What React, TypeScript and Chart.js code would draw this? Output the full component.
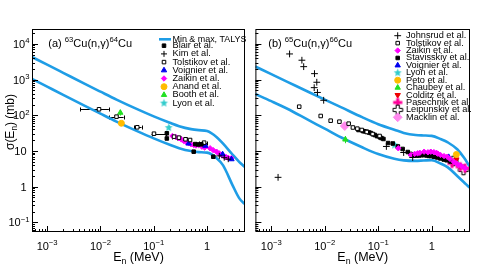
import React, { useEffect, useRef } from 'react';
import { Chart, registerables } from 'chart.js';
import { drawPoint } from 'chart.js/helpers';

Chart.register(...registerables);

const FONT = '"Liberation Sans", Arial, Helvetica, sans-serif';
const TALYS_COLOR = '#1f9de6';

// ---------- TALYS min / max bands ----------
const talysE = [5e-4, 1e-3, 2e-3, 5e-3, 0.01, 0.02, 0.05, 0.1, 0.2, 0.3, 0.5, 0.7, 1, 1.5, 2, 3, 4, 5, 5.5];
const cu63Max = [4405, 2612, 1542, 767, 458, 275, 146, 93, 61.7, 49.5, 41.0, 38.3, 36.1, 24.8, 16.0, 7.98, 4.98, 3.66, 3.21];
const cu63Min = [1074, 632, 372, 186, 111, 66.7, 35.4, 22.5, 14.9, 12.0, 9.94, 9.31, 9.02, 6.41, 3.95, 1.11, 0.48, 0.336, 0.297];
const cu65Max = [2328, 1416, 863, 447, 274, 169, 88.5, 56.3, 39.5, 32.1, 27.9, 27.2, 26.5, 21.3, 17.4, 11.2, 6.53, 3.93, 3.17];
const cu65Min = [395, 248, 152, 73, 42.2, 24.2, 12.7, 8.19, 6.05, 5.46, 5.29, 5.42, 5.56, 4.38, 3.49, 2.0, 1.34, 0.975, 0.857];

// ---------- (a) 63Cu(n,g)64Cu ----------
const blairE = [0.176, 0.176, 0.562, 1.31, 0.6, 0.68, 0.78];
const blairXS = [31.3, 22.4, 9.56, 6.92, 15.6, 15.2, 15.4];
const kimE = [1.7, 2.1, 2.5];
const kimXS = [7.3, 6.5, 5.9];
const tolst63E = [0.0094, 0.02, 0.049, 0.101, 0.24, 0.297, 0.394, 0.48, 0.88];
const tolst63XS = [147, 91.4, 46.1, 30.5, 25.2, 23.6, 21.3, 20.3, 17.1];
const tolst63ELo = [0.0042, 0.0144, 0.043, 0.091, 0.22, 0.275, 0.37, 0.45, 0.7];
const tolst63EHi = [0.0144, 0.0272, 0.059, 0.171, 0.26, 0.32, 0.42, 0.51, 0.99];
const voig63E = [0.45, 0.93, 1.96, 2.87];
const voig63XS = [16.2, 14.0, 8.09, 5.89];
const zaik63E = [0.224, 0.26, 0.297, 0.33, 0.367, 0.41, 0.454, 0.5, 0.562, 0.62, 0.695, 0.8, 0.9, 1.14, 1.3, 1.51, 1.7, 1.87, 2.14, 2.3, 2.48, 2.85];
const zaik63XS = [26.3, 24.5, 22.7, 21.0, 19.1, 17.6, 16.4, 15.5, 14.7, 14.2, 14.7, 13.2, 12.5, 11.9, 10.6, 9.55, 8.5, 7.72, 6.92, 6.7, 6.48, 6.3];
const anandE = [0.0247];
const anandXS = [59.7];
const boothE = [0.0236];
const boothXS = [118];
const boothLo = [98];
const boothHi = [140];
const lyon63E = [0.191];
const lyon63XS = [45];
const lyon63Lo = [39];
const lyon63Hi = [52];

// ---------- (b) 65Cu(n,g)66Cu ----------
const johnsrudE = [0.00134, 0.0022, 0.00374, 0.00404, 0.00643, 0.0071, 0.00635, 0.0073, 0.00955, 0.142, 0.299, 0.441];
const johnsrudXS = [1.83, 5210, 3476, 2296, 1462, 840, 593, 435, 263, 13.4, 9.08, 6.58];
const tolst65E = [0.00333, 0.0084, 0.0129, 0.0188, 0.028, 0.0336, 0.0407, 0.0492, 0.061, 0.0785, 0.106];
const tolst65XS = [174, 95.5, 70.6, 66.2, 58.2, 45.5, 42.2, 38.7, 34.0, 29.9, 26.3];
const zaik65E = [0.237, 0.41, 0.48, 0.546, 0.6, 0.72, 0.85, 0.96, 1.1, 1.24, 1.3, 1.46, 1.7, 1.95, 2.2, 2.58, 2.9, 3.18, 3.6, 4.23];
const zaik65XS = [11.9, 7.73, 8.3, 8.62, 8.9, 9.56, 9.2, 9.56, 9.3, 8.79, 8.4, 7.73, 7.2, 6.92, 6.0, 5.01, 4.5, 4.06, 3.8, 3.27];
const stavE = [0.0428, 0.0514, 0.055, 0.061, 0.067, 0.0721, 0.08, 0.0865, 0.095, 0.107, 0.115, 0.125, 0.153, 0.187, 0.233, 0.286, 0.357, 0.4, 0.472, 0.52, 0.576, 0.65, 0.713, 0.8, 0.88, 0.958, 1.1, 1.27, 1.45, 1.68, 1.9, 2.24];
const stavXS = [38.7, 36.3, 35.5, 34.7, 33.0, 31.9, 29.5, 28.0, 26.0, 24.2, 23.0, 21.7, 16.7, 16.2, 13.4, 11.4, 9.37, 8.3, 7.48, 7.5, 7.48, 7.6, 7.73, 7.5, 7.3, 7.24, 6.9, 6.58, 6.2, 5.78, 5.5, 5.08];
const voig65E = [0.507, 0.958, 2.08];
const voig65XS = [7.48, 8.96, 6.79];
const lyon65E = [0.202];
const lyon65XS = [14.7];
const lyon65Lo = [12.6];
const lyon65Hi = [17];
const petoE = [2.89];
const petoXS = [8.0];
const chaubeyE = [0.0243];
const chaubeyXS = [21];
const chaubeyLo = [16.5];
const chaubeyHi = [26];
const colditzE = [2.89];
const colditzXS = [5.8];
const pasechE = [2.4, 3.42, 4.2];
const pasechXS = [4.5, 3.63, 3.3];
const leipE = [2.54, 3.93];
const leipXS = [5.25, 2.94];
const macklinE = [0.0237];
const macklinXS = [50];
const macklinLo = [43];
const macklinHi = [57];

// ---------- axis ----------
const xTickExps = [-3, -2, -1, 0];
const yTickExps = [-1, 0, 1, 2, 3, 4];

type Seg = { t: string; k?: 'sup' | 'sub' };

function drawRich(ctx: CanvasRenderingContext2D, segs: Seg[], x: number, y: number, size: number, align: string) {
  const small = size * 0.7;
  let w = 0;
  const ws: number[] = [];
  for (const s of segs) {
    ctx.font = `${s.k ? small : size}px ${FONT}`;
    const m = ctx.measureText(s.t).width;
    ws.push(m);
    w += m;
  }
  let cx = align === 'left' ? x : align === 'right' ? x - w : x - w / 2;
  ctx.textAlign = 'left';
  ctx.textBaseline = 'alphabetic';
  segs.forEach((s, i) => {
    ctx.font = `${s.k ? small : size}px ${FONT}`;
    const dy = s.k === 'sup' ? -size * 0.42 : s.k === 'sub' ? size * 0.22 : 0;
    ctx.fillText(s.t, cx, y + dy);
    cx += ws[i];
  });
}

function expLabel(e: number): Seg[] {
  if (e === 0) return [{ t: '1' }];
  if (e === 1) return [{ t: '10' }];
  return [{ t: '10' }, { t: String(e).replace('-', '\u2212'), k: 'sup' }];
}

function makeStar(color: string, r: number) {
  const s = Math.ceil(r * 2 + 2);
  const c = document.createElement('canvas');
  c.width = s; c.height = s;
  const g = c.getContext('2d')!;
  g.fillStyle = color;
  g.beginPath();
  for (let i = 0; i < 10; i++) {
    const rr = i % 2 === 0 ? r : r * 0.45;
    const a = -Math.PI / 2 + (i * Math.PI) / 5;
    const px = s / 2 + rr * Math.cos(a);
    const py = s / 2 + rr * Math.sin(a);
    if (i === 0) g.moveTo(px, py); else g.lineTo(px, py);
  }
  g.closePath();
  g.fill();
  return c;
}

function makeCross(fill: string | null, stroke: string | null, r: number, arm: number) {
  const s = Math.ceil(r * 2 + 2);
  const c = document.createElement('canvas');
  c.width = s; c.height = s;
  const g = c.getContext('2d')!;
  const o = s / 2;
  const a = arm / 2;
  const pts = [
    [o - a, o - r], [o + a, o - r], [o + a, o - a], [o + r, o - a], [o + r, o + a], [o + a, o + a],
    [o + a, o + r], [o - a, o + r], [o - a, o + a], [o - r, o + a], [o - r, o - a], [o - a, o - a],
  ];
  g.beginPath();
  pts.forEach((p, i) => (i === 0 ? g.moveTo(p[0], p[1]) : g.lineTo(p[0], p[1])));
  g.closePath();
  if (fill) { g.fillStyle = fill; g.fill(); }
  if (stroke) { g.strokeStyle = stroke; g.lineWidth = 1; g.stroke(); }
  return c;
}

type Style = { pointStyle: any; radius: number; rotation?: number; bg: string; border: string; bw: number };
type Series = { label: string; x: number[]; y: number[]; st: Style; errX?: number[][]; errY?: number[][]; errColor?: string };

function styles() {
  return {
    blair: { pointStyle: 'rect', radius: 2.5, bg: '#000', border: '#000', bw: 1 },
    kim: { pointStyle: 'cross', radius: 3, bg: '#000', border: '#000', bw: 1 },
    tolst: { pointStyle: 'rect', radius: 2.5, bg: '#fff', border: '#000', bw: 1 },
    voig: { pointStyle: 'triangle', radius: 3.1, bg: '#0000ee', border: '#0000ee', bw: 1 },
    zaik: { pointStyle: 'rectRot', radius: 2.7, bg: '#ff00ff', border: '#ff00ff', bw: 1 },
    anand: { pointStyle: 'circle', radius: 3, bg: '#ffbb00', border: '#ffbb00', bw: 1 },
    booth: { pointStyle: 'triangle', radius: 3.1, bg: '#22e022', border: '#22e022', bw: 1 },
    lyon: { pointStyle: makeStar('#33cccc', 4.2), radius: 4, bg: '#33cccc', border: '#33cccc', bw: 0 },
    johnsrud: { pointStyle: 'cross', radius: 3.4, bg: '#000', border: '#000', bw: 1 },
    stav: { pointStyle: 'rect', radius: 2.5, bg: '#000', border: '#000', bw: 1 },
    peto: { pointStyle: 'circle', radius: 3, bg: '#ffbb00', border: '#ffbb00', bw: 1 },
    chaubey: { pointStyle: 'triangle', radius: 3.1, bg: '#22e022', border: '#22e022', bw: 1 },
    colditz: { pointStyle: 'triangle', radius: 3.1, rotation: 180, bg: '#ee0000', border: '#ee0000', bw: 1 },
    pasech: { pointStyle: makeCross('#ff0099', null, 4.6, 3), radius: 4.6, bg: '#ff0099', border: '#ff0099', bw: 0 },
    leip: { pointStyle: makeCross('#ffffff', '#000000', 4.8, 3.2), radius: 4.8, bg: '#fff', border: '#000', bw: 0 },
    macklin: { pointStyle: 'rectRot', radius: 4.4, bg: '#ff88ee', border: '#ff88ee', bw: 1 },
  } as Record<string, Style>;
}

function zip(a: number[], b: number[]) { return a.map((v, i) => [v, b[i]]); }

type PanelCfg = {
  xMin: number; xMax: number; yMin: number; yMax: number;
  padding: any; curves: number[][]; series: Series[]; yLabels: boolean;
  panelLabel: Seg[]; labelX: number;
  legend: { mx: number; tx: number; y0: number; dy: number; lineRow?: { y: number; x1: number; x2: number } };
};

const LEG_FONT = 9.2;

function makeDecor(cfg: PanelCfg) {
  return {
    id: 'decor',
    beforeDatasetsDraw(chart: any) {
      const { ctx, chartArea: a, scales } = chart;
      const xs = scales.x, ys = scales.y;
      ctx.save();
      ctx.beginPath();
      ctx.rect(a.left, a.top, a.right - a.left, a.bottom - a.top);
      ctx.clip();
      ctx.lineWidth = 1;
      chart.data.datasets.forEach((ds: any) => {
        if (!ds.errX && !ds.errY) return;
        ctx.strokeStyle = ds.errColor || '#000';
        ds.data.forEach((p: any, i: number) => {
          const px = xs.getPixelForValue(p.x), py = ys.getPixelForValue(p.y);
          ctx.beginPath();
          if (ds.errX) {
            const x1 = xs.getPixelForValue(ds.errX[i][0]), x2 = xs.getPixelForValue(ds.errX[i][1]);
            const yy = Math.round(py) + 0.5;
            ctx.moveTo(x1, yy); ctx.lineTo(x2, yy);
            ctx.moveTo(Math.round(x1) + 0.5, yy - 2); ctx.lineTo(Math.round(x1) + 0.5, yy + 2);
            ctx.moveTo(Math.round(x2) + 0.5, yy - 2); ctx.lineTo(Math.round(x2) + 0.5, yy + 2);
          }
          if (ds.errY) {
            const y1 = ys.getPixelForValue(ds.errY[i][0]), y2 = ys.getPixelForValue(ds.errY[i][1]);
            const xx = Math.round(px) + 0.5;
            ctx.moveTo(xx, y1); ctx.lineTo(xx, y2);
          }
          ctx.stroke();
        });
      });
      ctx.restore();
    },
    afterDatasetsDraw(chart: any) {
      const { ctx, chartArea: a, scales } = chart;
      const xs = scales.x, ys = scales.y;
      ctx.save();
      ctx.strokeStyle = '#000';
      ctx.fillStyle = '#000';
      ctx.lineWidth = 1;
      // frame
      ctx.strokeRect(a.left + 0.5, a.top + 0.5, a.right - a.left - 1, a.bottom - a.top - 1);
      // ticks
      ctx.beginPath();
      for (let e = -5; e <= 5; e++) {
        for (let m = 1; m <= 9; m++) {
          const v = m * Math.pow(10, e);
          const len = m === 1 ? 6 : 3;
          if (v >= cfg.xMin && v <= cfg.xMax) {
            const px = Math.round(xs.getPixelForValue(v)) + 0.5;
            ctx.moveTo(px, a.bottom); ctx.lineTo(px, a.bottom - len);
          }
          if (v >= cfg.yMin && v <= cfg.yMax) {
            const py = Math.round(ys.getPixelForValue(v)) + 0.5;
            ctx.moveTo(a.left, py); ctx.lineTo(a.left + len, py);
          }
        }
      }
      ctx.stroke();
      // x tick labels
      xTickExps.forEach((e) => {
        const px = xs.getPixelForValue(Math.pow(10, e));
        drawRich(ctx, expLabel(e), px, 250, 11, 'center');
      });
      if (cfg.yLabels) {
        yTickExps.forEach((e) => {
          const py = ys.getPixelForValue(Math.pow(10, e));
          const segs = expLabel(e);
          drawRich(ctx, segs, segs.length > 1 ? 29.5 : 26.5, py + 4, 11, 'right');
        });
        ctx.save();
        ctx.translate(10, 122);
        ctx.rotate(-Math.PI / 2);
        drawRich(ctx, [{ t: '\u03c3(E' }, { t: 'n', k: 'sub' }, { t: ') (mb)' }], 0, 4.3, 12, 'center');
        ctx.restore();
      }
      drawRich(ctx, [{ t: 'E' }, { t: 'n', k: 'sub' }, { t: ' (MeV)' }], (a.left + a.right) / 2, 261, 12.5, 'center');
      // panel label
      drawRich(ctx, cfg.panelLabel, cfg.labelX, 47, 11, 'left');
      // legend
      const L = cfg.legend;
      if (L.lineRow) {
        ctx.strokeStyle = TALYS_COLOR;
        ctx.lineWidth = 2.6;
        ctx.beginPath();
        ctx.moveTo(L.lineRow.x1, L.lineRow.y); ctx.lineTo(L.lineRow.x2, L.lineRow.y);
        ctx.stroke();
        ctx.fillStyle = '#000';
        ctx.font = `${LEG_FONT}px ${FONT}`;
        ctx.textAlign = 'left'; ctx.textBaseline = 'middle';
        ctx.fillText('Min & max, TALYS', L.tx, L.lineRow.y, 74);
      }
      cfg.series.forEach((s, i) => {
        const y = L.y0 + i * L.dy;
        const st = s.st;
        ctx.fillStyle = st.bg;
        ctx.strokeStyle = st.border;
        ctx.lineWidth = st.bw;
        drawPoint(ctx, { pointStyle: st.pointStyle, radius: st.radius, rotation: st.rotation || 0, borderWidth: st.bw } as any, L.mx, y);
        ctx.fillStyle = '#000';
        ctx.font = `${LEG_FONT}px ${FONT}`;
        ctx.textAlign = 'left'; ctx.textBaseline = 'middle';
        ctx.fillText(s.label, L.tx, y);
      });
      ctx.restore();
    },
  };
}

function buildConfig(cfg: PanelCfg) {
  const datasets: any[] = [];
  cfg.series.forEach((s) => {
    datasets.push({
      label: s.label,
      data: s.x.map((v, i) => ({ x: v, y: s.y[i] })),
      showLine: false,
      pointStyle: s.st.pointStyle,
      pointRadius: s.st.radius,
      pointRotation: s.st.rotation || 0,
      pointBackgroundColor: s.st.bg,
      pointBorderColor: s.st.border,
      pointBorderWidth: s.st.bw,
      errX: s.errX,
      errY: s.errY,
      errColor: s.errColor,
    });
  });
  cfg.curves.forEach((c) => {
    datasets.push({
      label: 'TALYS',
      data: talysE.map((v, i) => ({ x: v, y: c[i] })),
      showLine: true,
      borderColor: TALYS_COLOR,
      borderWidth: 2.6,
      pointRadius: 0,
      cubicInterpolationMode: 'monotone',
      fill: false,
      clip: 0,
      order: 10,
    });
  });
  return {
    type: 'scatter',
    data: { datasets },
    options: {
      animation: false,
      responsive: false,
      devicePixelRatio: 1,
      events: [],
      layout: { padding: cfg.padding },
      plugins: { legend: { display: false }, tooltip: { enabled: false } },
      scales: {
        x: { type: 'logarithmic', min: cfg.xMin, max: cfg.xMax, display: false },
        y: { type: 'logarithmic', min: cfg.yMin, max: cfg.yMax, display: false },
      },
    },
    plugins: [makeDecor(cfg)],
  } as any;
}

function leftPanel(): PanelCfg {
  const S = styles();
  return {
    xMin: 5.2e-4, xMax: 5.15, yMin: 0.054, yMax: 2.6e4,
    padding: { left: 32, top: 29, right: 1, bottom: 34 },
    curves: [cu63Max, cu63Min],
    yLabels: true,
    panelLabel: [{ t: '(a) ' }, { t: '63', k: 'sup' }, { t: 'Cu(n,\u03b3)' }, { t: '64', k: 'sup' }, { t: 'Cu' }],
    labelX: 48.3,
    legend: { mx: 164, tx: 172.5, y0: 45.7, dy: 8.2, lineRow: { y: 39.3, x1: 159, x2: 171 } },
    series: [
      { label: 'Blair et al.', x: blairE, y: blairXS, st: S.blair },
      { label: 'Kim et al.', x: kimE, y: kimXS, st: S.kim },
      { label: 'Tolstikov et al.', x: tolst63E, y: tolst63XS, st: S.tolst, errX: zip(tolst63ELo, tolst63EHi) },
      { label: 'Voignier et al.', x: voig63E, y: voig63XS, st: S.voig },
      { label: 'Zaikin et al.', x: zaik63E, y: zaik63XS, st: S.zaik, errY: zaik63XS.map((v) => [v * 0.93, v * 1.07]), errColor: '#ff00ff' },
      { label: 'Anand et al.', x: anandE, y: anandXS, st: S.anand },
      { label: 'Booth et al.', x: boothE, y: boothXS, st: S.booth, errY: zip(boothLo, boothHi), errColor: '#22e022' },
      { label: 'Lyon et al.', x: lyon63E, y: lyon63XS, st: S.lyon, errY: zip(lyon63Lo, lyon63Hi), errColor: '#33cccc' },
    ],
  };
}

function rightPanel(): PanelCfg {
  const S = styles();
  return {
    xMin: 5.05e-4, xMax: 5.2, yMin: 0.054, yMax: 2.6e4,
    padding: { left: 2, top: 29, right: 28, bottom: 34 },
    curves: [cu65Max, cu65Min],
    yLabels: false,
    panelLabel: [{ t: '(b) ' }, { t: '65', k: 'sup' }, { t: 'Cu(n,\u03b3)' }, { t: '66', k: 'sup' }, { t: 'Cu' }],
    labelX: 18.3,
    legend: { mx: 147.7, tx: 156, y0: 35.7, dy: 7.42 },
    series: [
      { label: 'Johnsrud et al.', x: johnsrudE, y: johnsrudXS, st: S.johnsrud },
      { label: 'Tolstikov et al.', x: tolst65E, y: tolst65XS, st: S.tolst },
      { label: 'Zaikin et al.', x: zaik65E, y: zaik65XS, st: S.zaik, errY: zaik65XS.map((v) => [v * 0.93, v * 1.07]), errColor: '#ff00ff' },
      { label: 'Stavisskiy et al.', x: stavE, y: stavXS, st: S.stav },
      { label: 'Voignier et al.', x: voig65E, y: voig65XS, st: S.voig },
      { label: 'Lyon et al.', x: lyon65E, y: lyon65XS, st: S.lyon, errY: zip(lyon65Lo, lyon65Hi), errColor: '#33cccc' },
      { label: 'Peto et al.', x: petoE, y: petoXS, st: S.peto },
      { label: 'Chaubey et al.', x: chaubeyE, y: chaubeyXS, st: S.chaubey, errY: zip(chaubeyLo, chaubeyHi), errColor: '#22e022' },
      { label: 'Colditz et al.', x: colditzE, y: colditzXS, st: S.colditz },
      { label: 'Pasechnik et al.', x: pasechE, y: pasechXS, st: S.pasech },
      { label: 'Leipunskiy et al.', x: leipE, y: leipXS, st: S.leip },
      { label: 'Macklin et al.', x: macklinE, y: macklinXS, st: S.macklin, errY: zip(macklinLo, macklinHi), errColor: '#ff88ee' },
    ],
  };
}

function Panel({ make, left, width }: { make: () => PanelCfg; left: number; width: number }) {
  const ref = useRef<HTMLCanvasElement>(null);
  useEffect(() => {
    const chart = new Chart(ref.current!, buildConfig(make()));
    return () => chart.destroy();
  }, []);
  return (
    <canvas
      ref={ref}
      width={width}
      height={266}
      style={{ position: 'absolute', left, top: 0, width, height: 266 }}
    />
  );
}

export default function App() {
  return (
    <div style={{ position: 'fixed', left: 0, top: 0, width: 498, height: 266, background: '#fff' }}>
      <Panel make={leftPanel} left={0} width={250} />
      <Panel make={rightPanel} left={250} width={248} />
    </div>
  );
}
